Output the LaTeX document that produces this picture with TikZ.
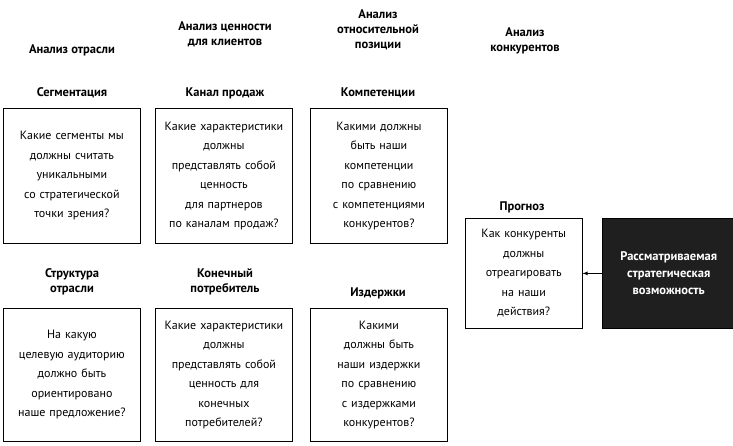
\documentclass[tikz,border=0pt]{standalone}
\usepackage{fontspec}
\setmainfont{PT Sans}
\begin{document}
\begin{tikzpicture}[x=1pt,y=-1pt,
 box/.style={draw,line width=0.8pt,minimum width=137pt,minimum height=135pt,anchor=north west,text width=130pt,align=center,font=\fontsize{12}{19.5}\selectfont},
 hd/.style={font=\bfseries\fontsize{12.5}{15}\selectfont,align=center},
 tl/.style={font=\bfseries\fontsize{12.5}{15}\selectfont,align=center}]
\useasboundingbox (0,0) rectangle (733,445);
\node[hd] (h1) at (72,50) {Анализ отрасли};
\node[hd] (h2) at (225,34) {Анализ ценности\\для клиентов};
\node[hd] (h3) at (378,30) {Анализ\\относительной\\позиции};
\node[hd] (h4) at (525,41) {Анализ\\конкурентов};
\node[tl] (t1) at (72,93) {Сегментация};
\node[tl] (t2) at (225,93) {Канал продаж};
\node[tl] (t3) at (378,93) {Компетенции};
\node[tl] (t4) at (72,282) {Структура\\отрасли};
\node[tl] (t5) at (225,282) {Конечный\\потребитель};
\node[tl] (t6) at (378,293) {Издержки};
\node[tl] (t7) at (522,207) {Прогноз};
\node[box] (b1) at (3,108) {Какие сегменты мы должны считать уникальными\\со стратегической\\точки зрения?};
\node[box] (b2) at (155,108) {Какие характеристики\\должны\\представлять собой\\ценность\\для партнеров\\по каналам продаж?};
\node[box] (b3) at (310,108) {Какими должны\\быть наши\\компетенции\\по сравнению\\с компетенциями\\конкурентов?};
\node[box,minimum height=133pt] (b4) at (3,308) {На какую\\целевую аудиторию\\должно быть\\ориентировано\\наше предложение?};
\node[box,minimum height=133pt] (b5) at (155,308) {Какие характеристики\\должны\\представлять собой\\ценность для\\конечных\\потребителей?};
\node[box,minimum height=133pt] (b6) at (310,308) {Какими\\должны быть\\наши издержки\\по сравнению\\с издержками\\конкурентов?};
\node[box,minimum width=113pt,minimum height=110pt,text width=110pt] (b7) at (465,218) {Как конкуренты\\должны\\отреагировать\\на наши\\действия?};
\node[box,fill=black!88,text=white,minimum width=129pt,minimum height=110pt,text width=126pt,font=\bfseries\fontsize{12.5}{17}\selectfont] (b8) at (602,218) {Рассматриваемая\\стратегическая\\возможность};
\draw[-latex,line width=0.8pt] (b8.west) -- (b7.east);
\end{tikzpicture}
\end{document}
